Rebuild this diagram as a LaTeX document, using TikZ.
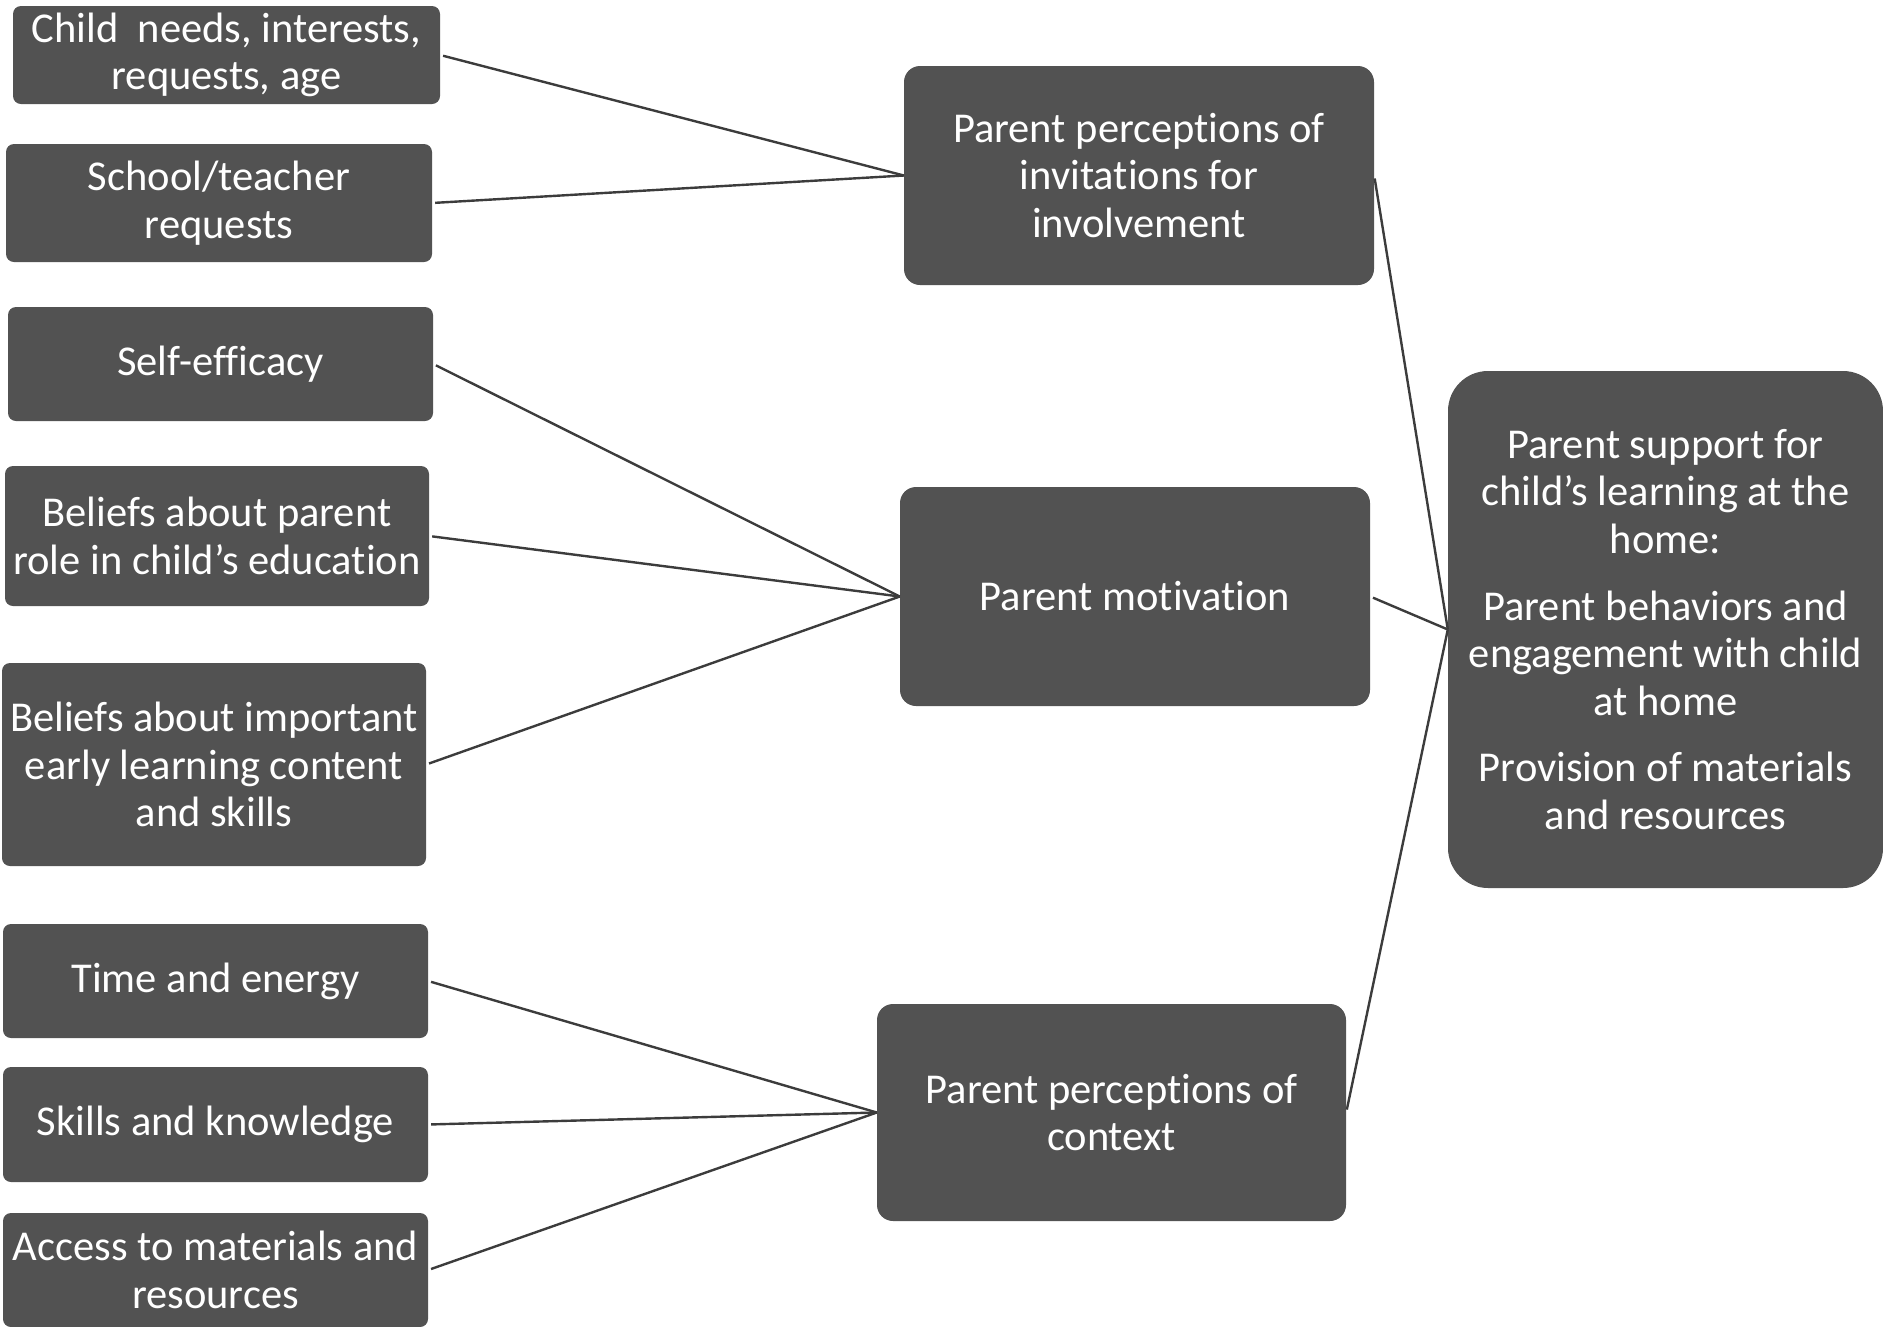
\documentclass[tikz,border=0pt]{standalone}
\usepackage{fontspec}
\setmainfont[Ligatures=NoCommon]{Carlito}
\definecolor{boxfill}{HTML}{525252}
\definecolor{linecol}{HTML}{3C3C3C}
\tikzset{
  box/.style={draw=none, fill=boxfill, text=white, align=center, inner sep=0pt,
    font=\fontsize{42.5}{47.6}\selectfont, rectangle},
  smallbox/.style={box, rounded corners=8pt},
  midbox/.style={box, rounded corners=16pt},
  bigbox/.style={box, rounded corners=40pt},
  link/.style={draw=linecol, line width=2.4pt, shorten <=3pt}
}
\begin{document}
\begin{tikzpicture}[x=1pt,y=-1pt]
\useasboundingbox (0,0) rectangle (1883,1326);
% left boxes
\node[smallbox, minimum width=427pt, minimum height=98pt] (c1) at (226.5,55) {Child\ \ needs, interests,\\requests, age};
\node[smallbox, minimum width=426pt, minimum height=118pt] (c2) at (219,203) {School/teacher\\requests};
\node[smallbox, minimum width=425pt, minimum height=114pt] (c3) at (220.5,364) {Self-efficacy};
\node[smallbox, minimum width=424pt, minimum height=140pt] (c4) at (217,536) {Beliefs about parent\\role in child’s education};
\node[smallbox, minimum width=424pt, minimum height=203pt] (c5) at (214,764.5) {Beliefs about important\\early learning content\\and skills};
\node[smallbox, minimum width=425pt, minimum height=114pt] (c6) at (215.5,981) {Time and energy};
\node[smallbox, minimum width=425pt, minimum height=115pt] (c7) at (215.5,1124.5) {Skills and knowledge};
\node[smallbox, minimum width=425pt, minimum height=114pt] (c8) at (215.5,1270) {Access to materials and\\resources};
% middle boxes
\node[midbox, minimum width=470pt, minimum height=219pt] (m1) at (1139,175.5) {Parent perceptions of\\invitations for\\involvement};
\node[midbox, minimum width=470pt, minimum height=219pt] (m2) at (1135,596.5) {Parent motivation};
\node[midbox, minimum width=469pt, minimum height=217pt] (m3) at (1111.5,1112.5) {Parent perceptions of\\context};
% right box
\node[bigbox, minimum width=435pt, minimum height=517pt] (r) at (1665.5,629.5) {Parent support for\\child’s learning at the\\home:\\[19pt]Parent behaviors and\\engagement with child\\at home\\[19pt]Provision of materials\\and resources};
% connectors
\draw[link] (c1.east) -- (m1.west);
\draw[link] (c2.east) -- (m1.west);
\draw[link] (c3.east) -- (m2.west);
\draw[link] (c4.east) -- (m2.west);
\draw[link] (c5.east) -- (m2.west);
\draw[link] (c6.east) -- (m3.west);
\draw[link] (c7.east) -- (m3.west);
\draw[link] (c8.east) -- (m3.west);
\draw[link] (m1.east) -- (r.west);
\draw[link] (m2.east) -- (r.west);
\draw[link] (m3.east) -- (r.west);
\end{tikzpicture}
\end{document}
